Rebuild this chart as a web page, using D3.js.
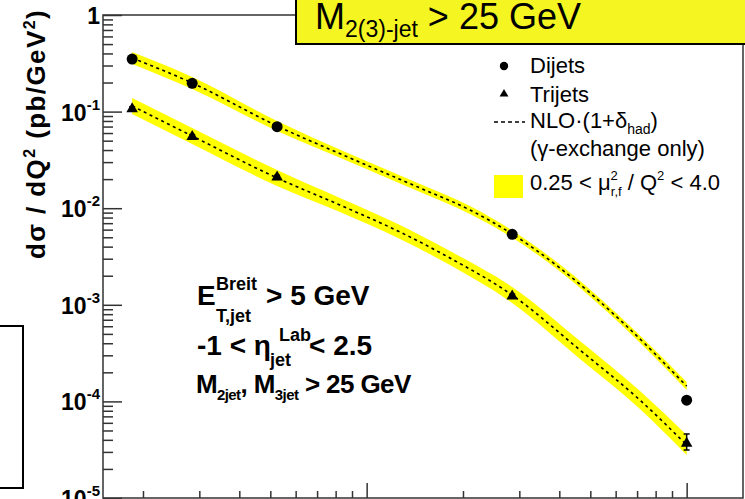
<!DOCTYPE html>
<html><head><meta charset="utf-8">
<script src="https://cdn.jsdelivr.net/npm/d3@7"></script>
<style>
html,body{margin:0;padding:0;background:#fff;overflow:hidden}
svg{display:block}
text{font-family:"Liberation Sans",Arial,Helvetica,sans-serif;fill:#000}
</style></head><body>
<svg id="c" width="745" height="499"></svg>
<script>
// ---- data ----
const dataQ2      = [185, 285, 525, 2850, 10000];
const dijets      = [0.350, 0.196, 0.0698, 0.00537, 1.03e-4];
const dijetErrLo  = [0.335, 0.189, 0.0675, 0.00522, 9.6e-5];
const dijetErrHi  = [0.365, 0.203, 0.0721, 0.00552, 1.10e-4];
const trijets     = [0.1064, 0.0550, 0.0209, 0.00123, 3.68e-5];
const trijetErrLo = [0.101, 0.0522, 0.0199, 0.00117, 3.14e-5];
const trijetErrHi = [0.112, 0.0578, 0.0219, 0.00129, 4.60e-5];

const nloQ2Di     = [185, 285, 525, 887, 1468, 2103, 2850, 4020, 6190, 10000];
const nloDijet    = [0.359, 0.1978, 0.0710, 0.0331, 0.01619, 0.00958, 0.00541, 0.00240, 6.97e-4, 1.44e-4];
const nloDijetLo  = [0.311, 0.1714, 0.0630, 0.0301, 0.01471, 0.00871, 0.00497, 0.00221, 6.40e-4, 1.31e-4];
const nloDijetHi  = [0.414, 0.228, 0.0799, 0.0364, 0.01780, 0.01054, 0.00588, 0.00261, 7.57e-4, 1.59e-4];

const nloQ2Tri    = [185, 285, 525, 825, 1271, 1821, 2850, 4643, 7148, 10000];
const nloTrijet   = [0.1143, 0.0559, 0.02054, 0.01079, 0.00567, 0.00305, 0.00126, 3.40e-4, 1.03e-4, 3.54e-5];
const nloTrijetLo = [0.0944, 0.0462, 0.01698, 0.00913, 0.00480, 0.00258, 0.001044, 2.75e-4, 8.34e-5, 2.79e-5];
const nloTrijetHi = [0.1383, 0.0677, 0.02485, 0.01275, 0.00670, 0.00360, 0.001528, 4.22e-4, 1.28e-4, 4.49e-5];

const yMajorExp   = [0, -1, -2, -3, -4, -5];
const xMajorTicks = [1000, 10000];
const xDomain     = [150, 15000];
const yDomain     = [1e-5, 1];

// ---- layout ----
const L = 103, R = 743, T = 15, B = 498;
const svg = d3.select("#c");
const x = d3.scaleLog().domain(xDomain).range([L, R]);
const y = d3.scaleLog().domain(yDomain).range([B, T]);

// left box fragment
svg.append("rect").attr("x", -10).attr("y", 326).attr("width", 33).attr("height", 162)
  .attr("fill", "none").attr("stroke", "#000").attr("stroke-width", 2);

// bands
const mkArea = (qs, lo, hi) => d3.area()
  .x((d, i) => x(qs[i])).y0((d, i) => y(lo[i])).y1((d, i) => y(hi[i]))
  .curve(d3.curveMonotoneX)(qs);
svg.append("path").attr("d", mkArea(nloQ2Di, nloDijetLo, nloDijetHi)).attr("fill", "#ffff00");
svg.append("path").attr("d", mkArea(nloQ2Tri, nloTrijetLo, nloTrijetHi)).attr("fill", "#ffff00");

// dashed NLO lines
const mkLine = (qs, v) => d3.line().x((d, i) => x(qs[i])).y((d, i) => y(v[i]))
  .curve(d3.curveMonotoneX)(qs);
[[nloQ2Di, nloDijet], [nloQ2Tri, nloTrijet]].forEach(([q, v]) => {
  svg.append("path").attr("d", mkLine(q, v)).attr("fill", "none")
    .attr("stroke", "#000").attr("stroke-width", 1.6).attr("stroke-dasharray", "3,3.5");
});

// error bars
function errBars(lo, hi) {
  dataQ2.forEach((q, i) => {
    const g = svg.append("g").attr("stroke", "#000").attr("stroke-width", 1.5);
    g.append("line").attr("x1", x(q)).attr("x2", x(q)).attr("y1", y(lo[i])).attr("y2", y(hi[i]));
    [lo[i], hi[i]].forEach(v => g.append("line").attr("x1", x(q) - 3).attr("x2", x(q) + 3)
      .attr("y1", y(v)).attr("y2", y(v)));
  });
}
errBars(dijetErrLo, dijetErrHi);
errBars(trijetErrLo, trijetErrHi);

// markers
svg.append("g").selectAll("circle").data(dijets).join("circle")
  .attr("cx", (d, i) => x(dataQ2[i])).attr("cy", d => y(d)).attr("r", 5.5).attr("fill", "#000");
const tri = d3.symbol(d3.symbolTriangle).size(58);
svg.append("g").selectAll("path").data(trijets).join("path")
  .attr("d", tri).attr("transform", (d, i) => `translate(${x(dataQ2[i])},${y(d)})`).attr("fill", "#000");

// frame
svg.append("rect").attr("x", L).attr("y", T).attr("width", R - L).attr("height", B - T)
  .attr("fill", "none").attr("stroke", "#333").attr("stroke-width", 1.5);
// title box over frame top
svg.append("rect").attr("x", 296).attr("y", -3).attr("width", 460).attr("height", 47)
  .attr("fill", "#f5f521").attr("stroke", "#000").attr("stroke-width", 2);

// y axis ticks
const yMinor = [];
yMajorExp.forEach(e => { if (e > -5) for (let m = 2; m <= 9; m++) yMinor.push(m * Math.pow(10, e - 1)); });
const yMajor = yMajorExp.map(e => Math.pow(10, e));
function styleAxis(g) { g.select(".domain").remove(); g.selectAll("line").attr("stroke", "#333").attr("stroke-width", 1.5); }
svg.append("g").attr("transform", `translate(${L},0)`)
  .call(d3.axisRight(y).tickValues(yMinor).tickSize(10).tickFormat("")).call(styleAxis);
svg.append("g").attr("transform", `translate(${L},0)`)
  .call(d3.axisRight(y).tickValues(yMajor).tickSize(19).tickFormat("")).call(styleAxis);

// x axis ticks
const xMinor = [];
[100, 1000].forEach(b => { for (let m = 2; m <= 9; m++) { const v = m * b; if (v > xDomain[0]) xMinor.push(v); } });
svg.append("g").attr("transform", `translate(0,${B})`)
  .call(d3.axisTop(x).tickValues(xMinor).tickSize(7).tickFormat("")).call(styleAxis);
svg.append("g").attr("transform", `translate(0,${B})`)
  .call(d3.axisTop(x).tickValues(xMajorTicks).tickSize(15).tickFormat("")).call(styleAxis);

// y tick labels
yMajorExp.forEach(e => {
  const t = svg.append("text").attr("x", 100).attr("y", y(Math.pow(10, e)) + 9)
    .attr("text-anchor", "end").attr("font-weight", "bold").attr("font-size", 23);
  if (e === 0) { t.text("1"); }
  else {
    t.append("tspan").text("10");
    t.append("tspan").attr("dy", -11).attr("font-size", 15).text(String(e));
  }
});

// y axis title
const yt = svg.append("text").attr("transform", "translate(45,134) rotate(-90)")
  .attr("text-anchor", "middle").attr("font-weight", "bold").attr("font-size", 26)
  .attr("letter-spacing", 1.4);
yt.append("tspan").text("dσ / dQ");
yt.append("tspan").attr("dy", -10).attr("font-size", 16).text("2");
yt.append("tspan").attr("dy", 10).text(" (pb/GeV");
yt.append("tspan").attr("dy", -10).attr("font-size", 16).text("2");
yt.append("tspan").attr("dy", 10).text(")");

// title text
const tt = svg.append("text").attr("x", 315).attr("y", 29).attr("font-size", 36);
tt.append("tspan").text("M");
tt.append("tspan").attr("dy", 8).attr("font-size", 23).text("2(3)-jet");
tt.append("tspan").attr("dy", -8).text(" > 25 GeV");

// legend
svg.append("circle").attr("cx", 504).attr("cy", 66).attr("r", 4.2).attr("fill", "#000");
svg.append("path").attr("d", d3.symbol(d3.symbolTriangle).size(34)()).attr("transform", "translate(504,94)").attr("fill", "#000");
svg.append("line").attr("x1", 494).attr("x2", 525).attr("y1", 122).attr("y2", 122)
  .attr("stroke", "#000").attr("stroke-width", 1.3).attr("stroke-dasharray", "4,3");
svg.append("rect").attr("x", 494).attr("y", 175).attr("width", 29).attr("height", 23).attr("fill", "#ffff00");
const lf = 22;
svg.append("text").attr("x", 530).attr("y", 73).attr("font-size", lf).text("Dijets");
svg.append("text").attr("x", 530).attr("y", 102).attr("font-size", lf).text("Trijets");
const nl = svg.append("text").attr("x", 530).attr("y", 128).attr("font-size", lf);
nl.append("tspan").text("NLO·(1+δ");
nl.append("tspan").attr("dy", 6).attr("font-size", 14).text("had");
nl.append("tspan").attr("dy", -6).text(")");
svg.append("text").attr("x", 530).attr("y", 156).attr("font-size", lf).text("(γ-exchange only)");
const sc = svg.append("text").attr("x", 530).attr("y", 190).attr("font-size", lf);
sc.append("tspan").text("0.25 < μ");
sc.append("tspan").attr("font-size", 13).attr("dy", -10).text("2");
sc.append("tspan").attr("font-size", 13).attr("dx", -7).attr("dy", 16).text("r,f");
sc.append("tspan").attr("dy", -6).text(" / Q");
sc.append("tspan").attr("font-size", 13).attr("dy", -10).text("2");
sc.append("tspan").attr("dy", 10).text(" < 4.0");

// text block
const fb = 28, fs = 18;
function bt(xp, yp, s, f) { return svg.append("text").attr("x", xp).attr("y", yp).attr("font-size", f).attr("font-weight", "bold").text(s); }
bt(197, 305, "E", fb);
bt(216, 290, "Breit", fs);
bt(216, 322, "T,jet", fs);
bt(266, 305, "> 5 GeV", fb);
bt(197, 355, "-1 < η", fb);
bt(279, 341, "Lab", fs);
bt(270, 366, "jet", fs);
bt(309, 355, "< 2.5", fb);
const l3 = svg.append("text").attr("x", 196).attr("y", 393).attr("font-size", 26).attr("font-weight", "bold")
  .attr("letter-spacing", -0.6);
l3.append("tspan").text("M");
l3.append("tspan").attr("font-size", 15).attr("dy", 7).text("2jet");
l3.append("tspan").attr("dy", -7).text(", M");
l3.append("tspan").attr("font-size", 15).attr("dy", 7).text("3jet");
l3.append("tspan").attr("dy", -7).text(" > 25 GeV");
</script>
</body></html>
